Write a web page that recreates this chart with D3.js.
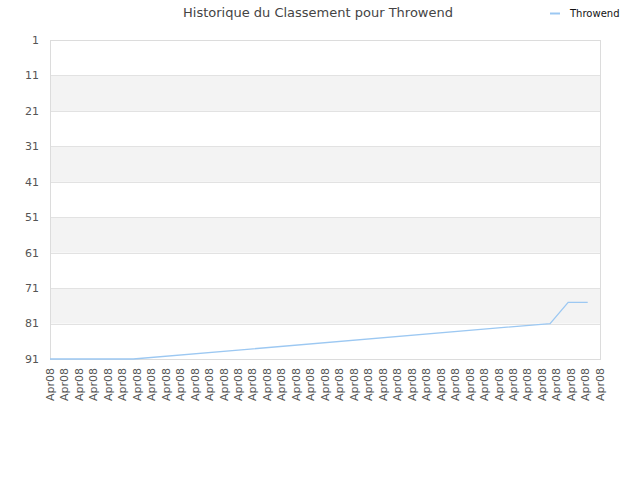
<!DOCTYPE html>
<html>
<head>
<meta charset="utf-8">
<script src="https://cdn.jsdelivr.net/npm/d3@7"></script>
<style>
  body { margin: 0; background: #fff; }
  svg { display: block; font-family: "DejaVu Sans", sans-serif; }
</style>
</head>
<body>
<div id="chart"></div>
<script>
const chartTitle = "Historique du Classement pour Throwend";
const seriesName = "Throwend";
// 39 date labels along the x axis
const xLabels = Array(39).fill("Apr08");
// rank history: position along the label axis (index units) and rank
const rankPos = [0, 5.75, 34.55, 35.8, 37.15];
const rankVal = [91, 91, 81, 75, 75];
const yTicks = [1, 11, 21, 31, 41, 51, 61, 71, 81, 91];

const width = 640, height = 480;
const margin = { top: 40, right: 40, bottom: 121, left: 50 };

const svg = d3.select("#chart").append("svg")
    .attr("width", width)
    .attr("height", height);

const x = d3.scaleLinear()
    .domain([0, xLabels.length - 1])
    .range([margin.left, width - margin.right]);

const y = d3.scaleLinear()
    .domain([1, 91])
    .range([margin.top, height - margin.bottom]);

// alternating bands
const bands = d3.pairs(yTicks).filter((_, i) => i % 2 === 1);
svg.append("g")
    .selectAll("rect")
    .data(bands)
    .join("rect")
    .attr("x", margin.left)
    .attr("y", (d) => y(d[0]))
    .attr("width", x.range()[1] - margin.left)
    .attr("height", (d) => y(d[1]) - y(d[0]))
    .attr("fill", "#f3f3f3");

// horizontal grid
svg.append("g")
    .selectAll("line")
    .data(yTicks)
    .join("line")
    .attr("x1", margin.left)
    .attr("x2", x.range()[1])
    .attr("y1", (d) => Math.round(y(d)) + 0.5)
    .attr("y2", (d) => Math.round(y(d)) + 0.5)
    .attr("stroke", "#e2e2e2");

// plot border
svg.append("rect")
    .attr("x", margin.left + 0.5)
    .attr("y", margin.top + 0.5)
    .attr("width", x.range()[1] - margin.left)
    .attr("height", y(91) - margin.top)
    .attr("fill", "none")
    .attr("stroke", "#dcdcdc");

// y axis labels
svg.append("g")
    .selectAll("text")
    .data(yTicks)
    .join("text")
    .attr("x", margin.left - 11)
    .attr("y", (d) => y(d))
    .attr("dy", "0.35em")
    .attr("text-anchor", "end")
    .attr("fill", "#555")
    .attr("font-size", 11)
    .text((d) => d);

// x axis labels, rotated
svg.append("g")
    .selectAll("text")
    .data(xLabels)
    .join("text")
    .attr("transform", (d, i) => `translate(${x(i)}, ${y(91) + 9}) rotate(-90)`)
    .attr("dy", "0.35em")
    .attr("text-anchor", "end")
    .attr("fill", "#555")
    .attr("font-size", 11)
    .text((d) => d);

// rank line
const points = rankPos.map((p, i) => [p, rankVal[i]]);
svg.append("path")
    .datum(points)
    .attr("fill", "none")
    .attr("stroke", "#9cc8f2")
    .attr("stroke-width", 1.3)
    .attr("d", d3.line().x((d) => x(d[0])).y((d) => y(d[1])));

// title
svg.append("text")
    .attr("x", 318)
    .attr("y", 12)
    .attr("dy", "0.35em")
    .attr("text-anchor", "middle")
    .attr("fill", "#444")
    .attr("font-size", 13)
    .text(chartTitle);

// legend
const legend = svg.append("g").attr("transform", "translate(550, 13)");
legend.append("line")
    .attr("x1", 0).attr("x2", 10)
    .attr("y1", 0.5).attr("y2", 0.5)
    .attr("stroke", "#9cc8f2")
    .attr("stroke-width", 2);
legend.append("text")
    .attr("x", 20)
    .attr("dy", "0.35em")
    .attr("fill", "#111")
    .attr("font-size", 10)
    .text(seriesName);
</script>
</body>
</html>
